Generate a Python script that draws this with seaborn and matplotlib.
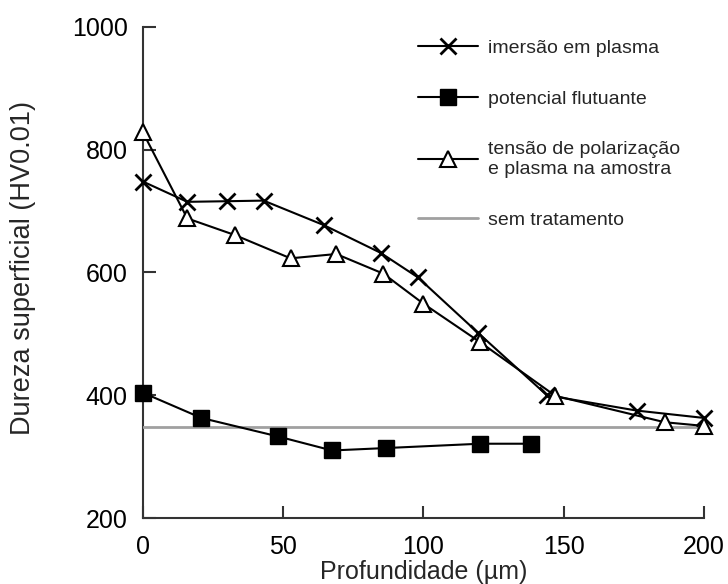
import matplotlib
matplotlib.use("Agg")
import matplotlib.pyplot as plt
import seaborn as sns
import pandas as pd

# Microhardness profiles vs. depth for each treatment
depth_imersao = [0, 15.8, 30, 43, 64.5, 84.7, 98, 119.6, 144, 176, 200]
hv_imersao = [748, 715, 716, 717, 677, 632, 592, 501, 400, 375, 363]

depth_flutuante = [0, 20.8, 48, 67.4, 86.8, 120.2, 138.2]
hv_flutuante = [404, 363, 333, 310, 314, 321, 321]

depth_polarizacao = [0, 15.8, 32.7, 52.6, 68.9, 85.7, 100, 120, 147, 186, 200]
hv_polarizacao = [828, 688, 661, 623, 630, 598, 549, 487, 399, 356, 350]

depth_base = [0, 200]
hv_base = [348, 348]

labels = [
    "imersão em plasma",
    "potencial flutuante",
    "tensão de polarização\ne plasma na amostra",
    "sem tratamento",
]

x_ticks = [0, 50, 100, 150, 200]
y_ticks = [200, 400, 600, 800, 1000]

sns.set_theme(style="ticks")
plt.rcParams["font.family"] = ["Liberation Sans", "DejaVu Sans"]

fig, ax = plt.subplots(figsize=(7.28, 5.84), dpi=100)
fig.subplots_adjust(left=0.1964, right=0.967, bottom=0.113, top=0.954)

sns.lineplot(x=depth_imersao, y=hv_imersao, ax=ax, color="black", lw=1.5,
             marker="x", markersize=11, markeredgewidth=2,
             markeredgecolor="black", label=labels[0], clip_on=False)
sns.lineplot(x=depth_flutuante, y=hv_flutuante, ax=ax, color="black", lw=1.5,
             marker="s", markersize=11, markeredgewidth=1,
             markeredgecolor="black", markerfacecolor="black", label=labels[1],
             clip_on=False)
sns.lineplot(x=depth_polarizacao, y=hv_polarizacao, ax=ax, color="black", lw=1.5,
             marker="^", markersize=12, markeredgewidth=1.5,
             markeredgecolor="black", markerfacecolor="white", label=labels[2],
             clip_on=False)
sns.lineplot(x=depth_base, y=hv_base, ax=ax, color="#a0a0a0", lw=2,
             label=labels[3], zorder=1)

ax.set_xlim(0, 200)
ax.set_ylim(200, 1000)
ax.set_xticks(x_ticks)
ax.set_yticks(y_ticks)

sns.despine(ax=ax)
for side in ("left", "bottom"):
    ax.spines[side].set_color("#333333")
    ax.spines[side].set_linewidth(1.5)
    ax.spines[side].set_zorder(0.5)

ax.tick_params(direction="in", length=9, width=1.5, color="#333333",
               labelsize=18, labelcolor="black")
ax.tick_params(axis="x", pad=12)
ax.tick_params(axis="y", pad=11)

ax.set_xlabel("Profundidade (µm)", fontsize=18, labelpad=1)
ax.set_ylabel("Dureza superficial (HV0.01)", fontsize=19.5)
ax.yaxis.set_label_coords(-0.19, 0.51)

ax.legend(loc="upper left", bbox_to_anchor=(0.476, 0.99), frameon=False,
          fontsize=14, handlelength=3.1, handletextpad=0.5,
          labelspacing=1.71, borderaxespad=0)

fig.savefig("out.png", dpi=100)
